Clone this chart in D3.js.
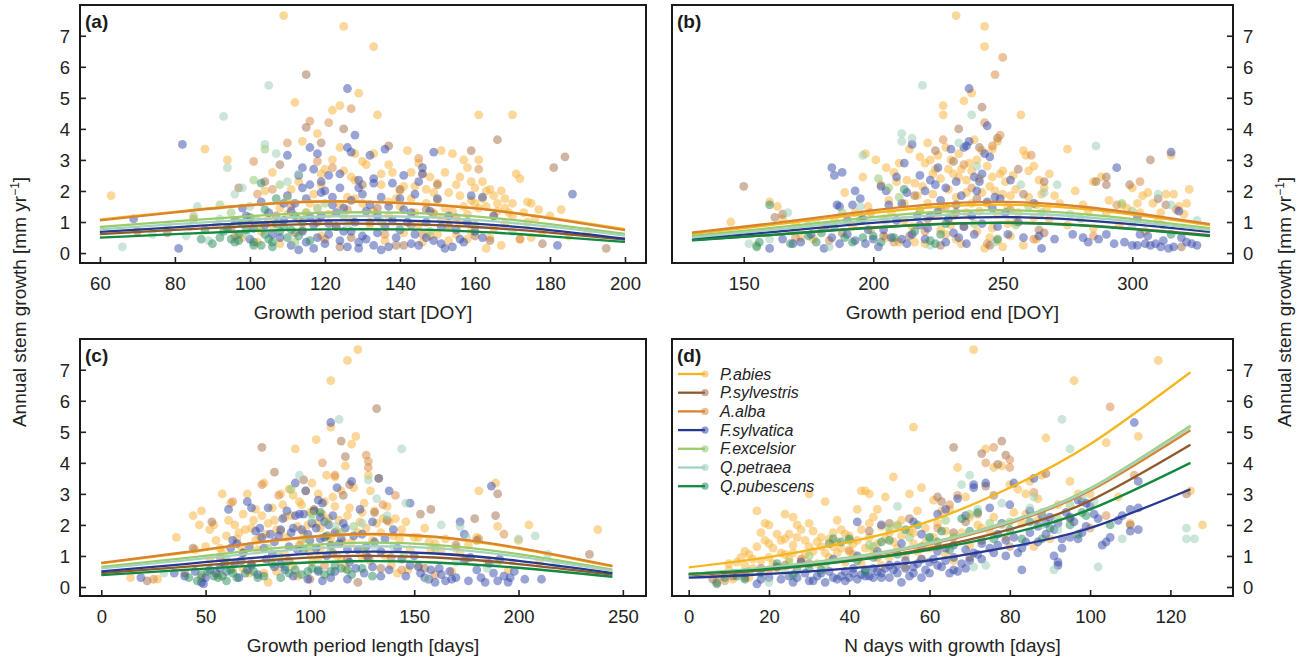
<!DOCTYPE html>
<html>
<head>
<meta charset="utf-8">
<script src="https://cdn.jsdelivr.net/npm/d3@7"></script>
<style>
  html, body { margin: 0; padding: 0; background: #fff; }
  svg { display: block; font-family: "Liberation Sans", Arial, Helvetica, sans-serif; }
</style>
</head>
<body>
<svg id="chart" width="1306" height="665"></svg>
<script>
// ---- species, colours -------------------------------------------------------
const species    = ["P.abies", "P.sylvestris", "A.alba", "F.sylvatica", "F.excelsior", "Q.petraea", "Q.pubescens"];
const lineColors = ["#f5b51c", "#8e5a2c", "#d9832f", "#27388f", "#9ccb6c", "#a3d4bb", "#12893f"];
const dotColors  = ["#f8b234", "#a06b45", "#d9863e", "#3347aa", "#8ec66a", "#98cdb1", "#27895a"];

// ---- tick labels ------------------------------------------------------------
const yTicks      = [0, 1, 2, 3, 4, 5, 6, 7];
const startTicks  = [60, 80, 100, 120, 140, 160, 180, 200];
const endTicks    = [150, 200, 250, 300];
const lengthTicks = [0, 50, 100, 150, 200, 250];
const ndaysTicks  = [0, 20, 40, 60, 80, 100, 120];

// ---- fitted curves (value per species at the listed x positions) ------------
const startCurveX = [60, 80, 100, 120, 140, 160, 180, 200];
const startCurves = [
  [1.08, 1.33, 1.56, 1.67, 1.62, 1.45, 1.14, 0.77],
  [0.61, 0.75, 0.87, 0.94, 0.93, 0.84, 0.66, 0.43],
  [1.05, 1.31, 1.54, 1.66, 1.61, 1.44, 1.12, 0.74],
  [0.68, 0.83, 0.97, 1.05, 1.05, 0.95, 0.74, 0.46],
  [0.84, 1.02, 1.19, 1.30, 1.30, 1.18, 0.93, 0.62],
  [0.76, 0.93, 1.08, 1.18, 1.18, 1.07, 0.85, 0.56],
  [0.50, 0.61, 0.71, 0.76, 0.76, 0.69, 0.54, 0.36]
];
const endCurveX = [130, 160, 190, 220, 250, 280, 310, 330];
const endCurves = [
  [0.62, 0.90, 1.20, 1.46, 1.56, 1.43, 1.13, 0.90],
  [0.42, 0.58, 0.77, 0.92, 0.98, 0.90, 0.72, 0.58],
  [0.66, 0.95, 1.27, 1.55, 1.65, 1.50, 1.18, 0.93],
  [0.46, 0.67, 0.90, 1.09, 1.16, 1.06, 0.85, 0.68],
  [0.55, 0.80, 1.07, 1.30, 1.38, 1.26, 1.00, 0.80],
  [0.50, 0.74, 0.99, 1.20, 1.28, 1.17, 0.93, 0.74],
  [0.41, 0.58, 0.76, 0.91, 0.97, 0.89, 0.70, 0.55]
];
const lengthCurveX = [0, 40, 80, 120, 160, 200, 245];
const lengthCurves = [
  [0.76, 1.10, 1.46, 1.68, 1.60, 1.24, 0.66],
  [0.45, 0.65, 0.86, 1.00, 0.95, 0.74, 0.40],
  [0.78, 1.12, 1.48, 1.70, 1.62, 1.26, 0.68],
  [0.50, 0.74, 0.98, 1.13, 1.08, 0.84, 0.45],
  [0.65, 0.93, 1.23, 1.42, 1.36, 1.06, 0.56],
  [0.60, 0.86, 1.13, 1.31, 1.25, 0.98, 0.52],
  [0.38, 0.55, 0.72, 0.83, 0.79, 0.62, 0.33]
];
const ndaysCurveX = [0, 20, 40, 60, 80, 100, 125];
const ndaysCurves = [
  [0.63, 0.96, 1.45, 2.12, 3.20, 4.60, 6.92],
  [0.38, 0.56, 0.84, 1.25, 1.86, 2.78, 4.58],
  [0.40, 0.60, 0.91, 1.37, 2.06, 3.10, 5.05],
  [0.30, 0.42, 0.60, 0.86, 1.29, 1.90, 3.15],
  [0.42, 0.63, 0.95, 1.42, 2.12, 3.18, 5.20],
  [0.41, 0.62, 0.93, 1.40, 2.10, 3.15, 5.15],
  [0.42, 0.58, 0.84, 1.20, 1.72, 2.50, 4.00]
];

// ---- observations: [x, growth, species index] -------------------------------
const tag = (s, pairs) => pairs.map(p => [p[0], p[1], p.length > 2 ? p[2] : s]);

const startPts = [].concat(
  tag(0, [[63,1.85],[88,3.35],[94,3.0],[109,7.65],[125,7.3],[133,6.65],[129,5.15],[112,4.85],[124,4.75],[122,4.6],[134,4.45],[161,4.45],[170,4.45],[114,3.6],[118,3.85],[124,3.4],[128,3.2],[130,2.95],[133,3.2],[135,2.55],[120,2.7],[119,2.2],[117,1.9],[111,2.05],[115,1.3],[126,1.8],[131,2.85],[140,1.5],[142,3.3],[145,2.9],[146,2.55],[148,2.45],[150,2.25],[151,3.3],[152,2.6],[153,1.95],[154,3.2],[155,2.2],[156,1.85],[157,3.0],[158,2.75],[159,2.3],[160,2.1],[161,3.0],[162,1.75],[163,1.5],[164,2.05],[165,1.2],[166,1.6],[167,2.0],[168,1.45],[169,1.3],[171,2.55],[172,2.4],[174,1.65],[175,1.6],[176,1.1],[178,0.7],[183,1.4],[140,2.0],[143,1.75],[147,1.6],[149,1.3],[151,1.1],[153,1.0],[155,0.6],[157,1.5],[159,1.7],[161,1.45],[163,0.15],[164,0.5],[167,0.25],[170,1.2],[172,0.45],[145,0.9],[141,0.65],[137,1.2],[136,0.4],[132,0.9],[127,1.05],[123,0.85],[121,1.25],[119,0.55],[116,1.6],[113,1.1],[108,1.45],[106,0.9],[139,1.75],[144,1.3],[150,1.7],[156,0.95],[160,0.9],[148,0.55],[158,0.45],[135,2.2],[138,2.6],[128,2.35],[125,2.65],[122,3.0],[113,2.3],[106,2.6],[104,2.0],
          [141,2.15],[143,2.6],[147,2.05],[149,1.95],[152,1.45],[154,1.35],[156,2.45],[158,1.25],[160,1.6],[162,2.3],[163,2.0],[165,1.85],[166,1.35],[168,1.75],[170,1.6],[173,1.3],[174,1.0],[177,1.4],[180,1.2],[137,1.65],[133,1.35],[130,1.6],[128,1.75],[124,1.55],[118,1.45],[110,1.25],[105,1.1],[103,0.7],[98,0.5],[102,0.35],[108,0.3],[146,0.35],[150,0.6],[153,0.4],[159,0.7],[165,0.8],[168,0.95],[175,0.5],[185,0.55],[190,0.7],[119,2.55],[127,2.45],[137,2.85],[144,2.15]]),
  tag(1, [[115,5.75,1],[121,4.2,2],[125,4.0,1],[127,4.65,2],[116,4.25,2],[115,4.05,1],[110,3.55,2],[119,3.55,1],[137,3.45,1],[166,3.65,1],[159,3.3,1],[184,3.1,1],[181,2.75,1],[161,2.7,2],[101,2.95,2],[102,1.9,2],[97,2.1,1],[108,2.85,1],[104,2.3,1],[106,2.05,2],[111,1.5,2],[118,2.95,2],[122,2.75,2],[130,2.2,1],[134,1.45,1],[140,2.05,1],[145,3.05,2],[150,2.2,1],[147,1.4,1],[155,1.15,2],[160,0.55,1],[164,0.4,1],[172,0.45,2],[178,0.3,1],[195,0.15,1],[139,0.25,1],[141,0.25,1],[124,0.2,1],[120,0.45,2],[112,0.65,1],[96,0.55,2],[78,0.65,1],[70,0.7,1],[85,1.1,2],[100,1.0,1],[126,1.4,2],[132,1.0,2],[136,0.6,2],[143,0.9,1],[149,1.25,2],[118,1.0,1],[114,0.75,2],[107,1.2,1],[127,0.5,1],[95,0.8,1],[146,0.6,2],[153,0.85,1]]),
  tag(3, [[82,3.5],[126,5.3],[128,3.8],[186,1.9],[182,0.25],[81,0.15],[69,1.1],[110,3.15],[116,3.4],[118,3.2],[126,3.4],[127,3.25],[132,3.15],[136,3.35],[149,3.25],[146,2.75],[146,2.55],[141,2.5],[133,2.4],[129,2.35],[124,2.55],[121,2.5],[116,2.2],[114,2.75],[113,2.5],[117,2.7],[119,2.3],[124,2.1],[129,2.1],[133,2.25],[138,2.25],[145,2.3],[150,1.75],[159,1.85],[162,1.8],[141,1.4],[135,1.8],[131,1.35],[128,1.0],[122,1.55],[119,1.2],[117,0.9],[114,0.7],[112,1.6],[109,1.6],[105,1.3],[104,0.9],[101,0.8],[98,1.45],[99,1.2],[118,0.5],[120,0.3],[117,0.15],[121,0.6],[124,0.4],[126,0.2],[129,0.35],[131,0.45],[133,0.25],[137,0.2],[143,0.3],[145,0.25],[147,0.5],[149,0.4],[151,0.3],[152,0.15],[154,0.2],[156,0.45],[160,0.7],[140,0.75],[138,1.05],[136,0.85],[134,0.65],[130,0.55],[127,0.7],[123,0.85],[115,0.35],[111,0.25],[108,0.5],[113,0.1],[143,1.3],[147,1.0],[151,0.85],[155,0.75],[165,1.2],[115,1.75],[119,1.95],[123,1.3],[127,1.7],[132,1.55],[114,2.1],[110,1.85],
          [120,2.0],[122,1.8],[125,1.45],[130,1.9],[134,1.2],[137,1.5],[139,0.5],[142,1.0],[144,0.6],[148,1.35],[153,1.2],[157,0.35],[158,1.0],[162,0.5],[106,0.6],[109,1.05],[111,1.35],[116,1.15],[121,0.95],[125,0.7],[129,0.15],[135,0.1],[140,1.75],[144,1.9],[103,1.65],[100,0.45],[96,1.05]]),
  tag(4, [[104,3.35],[101,2.35],[108,2.2],[97,1.0],[92,1.55],[85,1.2],[102,0.85],[110,1.75],[115,1.3],[120,1.6],[125,1.2],[135,1.0],[148,0.7],[112,0.35],[102,1.05],[95,1.3]]),
  tag(5, [[66,0.2],[105,5.4],[93,4.4],[94,2.75],[96,1.9],[98,2.1],[104,3.5],[107,3.2],[110,2.3],[113,2.55],[100,1.5],[86,1.5],[92,1.1],[83,0.55],[89,0.4],[118,1.45],[126,0.9],[140,0.8],[160,0.9],[170,0.7],[99,0.6],[91,0.9],[84,0.85],[78,0.9],[74,0.6]]),
  tag(6, [[87,0.45],[92,0.5],[95,0.45],[96,0.35],[97,0.6],[99,0.75],[101,0.35],[101,0.25],[103,2.25],[104,0.6],[105,0.45],[106,0.2],[106,0.35],[107,1.75],[107,0.95],[108,0.7],[110,0.5],[111,0.75],[112,1.2],[113,0.55],[114,1.0],[116,0.4],[97,0.4],[93,0.7],[100,1.15],[104,1.4],[94,0.8],[88,0.75],[90,0.3],[98,0.95],[103,0.25],[109,0.85]])
);

const endPts = [].concat(
  tag(0, [[145,1.0],[160,1.65],[163,1.5],[165,1.1],[172,0.5],[177,0.45],[189,1.95],[196,2.45],[197,3.2],[201,3.0],[203,2.2],[206,1.7],[208,2.6],[209,2.3],[212,1.6],[214,3.35],[216,2.25],[218,3.1],[220,2.9],[221,3.55],[222,3.0],[223,2.55],[224,2.7],[225,3.15],[226,2.4],[227,4.75],[227,4.45],[228,3.4],[229,2.05],[230,3.0],[231,2.55],[232,7.65],[232,1.8],[233,3.2],[234,2.7],[235,4.9],[236,2.35],[237,2.9],[238,5.15],[239,3.65],[240,3.0],[241,2.4],[242,3.3],[243,7.3],[243,6.65],[244,2.8],[245,2.15],[246,3.35],[247,2.0],[248,3.6],[249,2.55],[250,1.9],[251,2.3],[253,1.85],[255,2.05],[257,4.45],[258,3.3],[259,3.15],[260,2.65],[262,2.8],[263,1.55],[265,1.9],[266,2.1],[268,2.55],[270,1.85],[275,3.35],[281,1.55],[285,2.3],[288,2.45],[291,1.7],[296,1.55],[300,2.1],[302,1.6],[304,1.85],[306,1.95],[308,1.6],[311,1.3],[313,1.9],[315,3.15],[318,1.5],[320,1.25],[322,2.05],[225,1.2],[230,0.9],[236,1.3],[240,0.7],[245,0.5],[248,0.4],[250,0.2],[253,0.55],[258,0.25],[263,0.45],[215,0.85],[212,1.05],[205,0.5],[199,0.75],[220,0.3],[228,0.6],[234,0.3],[243,0.15],[185,1.1],[192,0.85],[268,1.1],[275,0.9],[285,0.8],[295,0.9],[305,0.7],[210,0.35],[218,1.35],[238,1.6],[255,1.0],
          [205,2.75],[207,1.3],[210,2.9],[213,2.35],[217,1.85],[219,2.15],[221,1.6],[223,1.9],[226,1.45],[229,2.7],[231,1.2],[233,2.45],[236,1.95],[238,2.65],[241,1.35],[242,1.95],[244,1.6],[246,2.45],[248,1.25],[250,2.65],[252,1.5],[254,2.5],[256,1.3],[260,1.8],[262,1.15],[264,2.35],[267,1.45],[272,1.6],[278,2.0],[283,1.35],[290,1.3],[298,1.45],[303,1.3],[310,1.05],[316,1.9],[321,1.6],[232,0.45],[226,0.75],[216,0.35],[204,1.1],[198,1.5],[193,1.3],[180,0.8],[170,0.95],[246,0.8],[252,0.95]]),
  tag(1, [[150,2.15,1],[250,6.3,2],[247,5.75,2],[242,4.7,1],[243,4.2,2],[233,4.0,1],[248,3.7,1],[249,3.8,2],[241,3.4,1],[227,3.65,2],[224,3.3,1],[231,2.95,1],[235,2.85,2],[246,3.45,2],[256,2.7,1],[261,3.15,2],[266,2.3,1],[286,2.3,1],[290,2.45,1],[290,2.2,1],[294,1.55,2],[299,2.2,1],[303,2.3,2],[307,3.0,1],[310,1.75,1],[313,1.55,1],[317,1.4,2],[319,0.2,1],[162,1.15,1],[165,1.25,1],[170,0.5,2],[183,0.4,2],[204,0.55,1],[208,0.35,2],[214,0.55,1],[220,0.7,2],[226,0.25,1],[244,0.3,2],[245,0.25,1],[262,0.45,2],[264,0.75,1],[266,0.65,1],[285,0.55,2],[221,1.1,1],[228,1.5,2],[232,1.3,1],[238,2.1,2],[240,1.75,1],[253,1.4,2],[258,1.9,1],[235,0.85,2],[216,1.85,1],[199,1.3,2],[188,0.65,1]]),
  tag(3, [[237,5.3],[184,2.75],[185,2.5],[188,2.6],[215,3.5],[212,2.9],[244,4.1],[294,2.75],[315,3.25],[193,2.0],[195,1.75],[192,1.55],[186,1.55],[203,2.15],[205,2.0],[206,1.55],[209,2.45],[211,1.6],[213,1.95],[218,2.5],[220,2.0],[222,2.35],[224,2.2],[225,2.75],[228,2.1],[230,3.35],[232,2.3],[234,1.85],[235,3.4],[236,3.45],[237,3.6],[239,2.45],[241,2.3],[242,2.55],[243,3.2],[245,3.1],[247,1.8],[249,1.75],[253,2.35],[262,1.6],[184,0.5],[187,0.3],[190,0.6],[193,0.4],[181,0.15],[165,0.45],[169,0.3],[160,0.15],[200,0.45],[202,0.2],[207,0.5],[211,0.45],[215,0.6],[218,0.9],[220,0.45],[222,1.2],[225,1.35],[229,1.1],[231,0.65],[233,0.5],[236,0.3],[239,0.6],[242,0.95],[246,1.45],[251,1.3],[256,1.0],[264,0.55],[265,0.15],[281,0.5],[283,0.35],[290,0.6],[297,0.35],[300,0.25],[302,0.25],[303,0.6],[305,0.3],[307,0.25],[309,0.3],[311,0.2],[312,0.4],[314,0.15],[316,0.2],[318,1.35],[319,0.5],[323,0.3],[302,1.15],[196,1.1],[198,0.75],
          [197,0.3],[204,0.75],[209,1.05],[213,0.3],[217,1.2],[221,0.8],[226,1.7],[228,0.35],[232,1.55],[235,0.85],[238,1.2],[240,2.0],[244,1.65],[248,0.85],[252,0.6],[258,0.5],[270,0.45],[277,0.6],[287,0.45],[293,0.3],[306,0.55],[321,0.35],[325,0.25],[190,1.05],[187,1.5],[182,0.9],[176,0.6],[172,0.35]]),
  tag(4, [[202,2.4],[206,2.1],[210,1.8],[218,1.4],[230,1.25],[260,1.5],[188,1.3],[175,0.9],[155,0.25],[255,0.9],[280,1.1],[300,1.35],[312,0.9],[239,0.95],[265,1.3],[296,1.6],[170,0.75]]),
  tag(5, [[219,5.4],[238,4.45],[211,3.85],[215,3.7],[286,3.45],[196,3.15],[211,3.6],[233,3.55],[240,2.8],[257,2.2],[266,1.95],[271,2.2],[310,1.9],[315,1.55],[167,1.3],[178,1.0],[195,1.5],[205,1.05],[222,0.25],[247,0.35],[160,0.45],[152,0.3],[325,1.05],[183,0.2],[276,1.25],[300,0.9]]),
  tag(6, [[155,0.2],[160,1.55],[196,0.5],[222,0.4],[156,0.35],[168,0.3],[185,0.85],[192,0.35],[200,0.55],[208,0.5],[212,2.05],[216,0.7],[224,0.3],[228,0.95],[248,0.45],[315,0.6],[180,0.65],[195,1.05],[175,0.55],[178,0.35],[189,0.5],[203,0.35],[226,0.6]])
);

const lengthPts = [].concat(
  tag(0, [[123,7.65],[118,7.3],[110,6.65],[110,5.15],[122,4.85],[103,4.75],[120,4.6],[93,4.45],[181,3.1],[189,3.35],[238,1.85],[205,2.0],[36,1.6],[14,0.3],[27,0.25],[44,2.3],[48,2.45],[47,2.0],[52,1.85],[55,1.5],[58,3.0],[60,1.65],[62,2.7],[64,2.0],[66,1.75],[68,2.35],[70,3.0],[72,1.9],[74,2.5],[76,1.6],[78,3.35],[80,2.05],[82,2.55],[84,1.85],[86,3.0],[88,2.25],[90,3.15],[92,2.95],[94,1.95],[96,2.65],[98,3.1],[99,2.0],[101,3.35],[102,2.45],[104,3.0],[105,1.9],[107,2.75],[108,3.6],[109,2.2],[111,2.9],[112,3.55],[113,1.8],[115,3.1],[117,3.9],[119,2.55],[121,3.2],[124,2.1],[126,2.7],[128,3.6],[129,3.1],[131,2.45],[133,3.5],[135,2.2],[138,2.1],[140,1.65],[143,1.55],[146,2.1],[150,1.6],[155,1.9],[160,1.4],[165,1.55],[170,1.25],[176,1.35],[190,1.95],[200,1.5],[45,1.2],[52,0.9],[58,1.1],[63,0.6],[67,1.3],[71,0.45],[75,1.2],[80,0.15],[84,0.5],[88,1.05],[92,0.7],[96,1.5],[101,0.8],[105,1.25],[110,1.55],[115,0.85],[120,1.45],[125,0.95],[130,1.5],[136,1.0],[142,0.45],[148,1.2],[152,0.7],[158,1.2],[168,0.5],[175,0.9],[185,0.8],[195,0.55],[210,0.8],[74,1.5],[86,1.8],[100,1.1],[113,1.0],
          [50,1.3],[54,2.0],[57,1.25],[61,2.15],[65,1.55],[69,1.85],[73,2.15],[77,2.3],[79,1.7],[83,2.15],[87,2.65],[89,1.6],[91,2.3],[95,2.75],[97,1.75],[100,2.4],[103,2.05],[106,2.35],[109,1.65],[112,2.6],[114,2.15],[116,1.45],[118,2.3],[123,1.75],[125,2.4],[127,1.9],[132,2.05],[134,1.75],[137,2.6],[141,2.2],[144,1.85],[152,1.6],[157,1.45],[163,1.2],[172,1.1],[180,1.6],[60,0.8],[68,0.6],[78,0.45],[94,0.35],[104,0.95],[117,0.6],[129,0.85],[139,0.7],[147,0.55],[56,0.4]]),
  tag(1, [[132,5.75,1],[115,4.7,1],[117,4.2,1],[127,4.25,2],[128,4.05,2],[77,4.5,1],[83,3.7,1],[106,4.0,2],[190,3.0,1],[189,2.3,1],[234,1.05,1],[22,0.2,1],[25,0.25,2],[53,2.1,1],[63,2.75,2],[77,3.3,2],[85,2.95,2],[97,3.45,1],[102,2.5,1],[112,3.6,2],[116,2.95,1],[119,3.3,1],[128,3.85,2],[131,2.4,1],[135,2.65,2],[137,2.15,1],[141,2.95,2],[153,2.35,1],[158,2.5,1],[179,2.2,1],[181,1.55,2],[193,1.7,2],[180,1.5,1],[44,1.25,1],[57,0.95,1],[68,1.1,2],[72,0.75,1],[90,0.85,1],[95,1.35,2],[100,0.25,1],[107,0.7,2],[111,1.1,1],[118,0.9,1],[123,0.15,1],[127,1.0,2],[134,0.6,1],[139,0.95,1],[144,0.55,2],[155,0.6,1],[160,0.4,2],[170,1.35,1],[40,0.45,1],[48,0.3,2]]),
  tag(3, [[110,5.3],[120,3.4],[93,3.35],[133,3.5],[138,3.1],[148,2.7],[187,3.25],[19,0.3],[35,0.45],[40,0.35],[48,0.15],[49,0.1],[50,0.3],[55,0.45],[57,0.6],[59,0.75],[60,0.5],[61,2.5],[63,1.5],[65,1.4],[67,0.85],[70,2.75],[72,2.55],[74,1.8],[76,1.9],[78,1.25],[80,2.55],[81,1.7],[83,1.45],[85,1.65],[87,2.2],[89,2.45],[91,1.75],[93,2.3],[94,1.2],[95,2.35],[96,1.85],[97,2.35],[98,3.1],[100,1.5],[101,2.05],[102,2.45],[103,1.9],[104,2.8],[105,2.25],[106,2.7],[107,1.6],[108,1.0],[109,2.0],[111,2.3],[112,1.75],[113,3.2],[114,1.4],[116,2.05],[118,1.2],[121,1.65],[124,2.5],[127,1.3],[130,2.1],[136,1.55],[140,1.85],[142,1.25],[144,0.9],[146,0.35],[150,1.0],[152,0.65],[155,0.3],[158,0.55],[160,0.15],[163,0.4],[165,0.2],[168,0.25],[170,0.3],[172,2.1],[174,0.85],[177,0.95],[180,0.55],[182,0.3],[184,0.15],[186,0.75],[190,0.2],[191,0.9],[193,0.35],[195,0.15],[196,0.3],[211,0.25],[174,1.7],[88,0.55],[92,0.35],[99,0.25],[104,0.5],[106,0.2],[110,0.3],[112,0.5],[118,0.25],[122,0.6],[126,0.45],[130,0.65],[134,0.35],[83,0.65],[79,0.9],[70,0.55],[66,0.3],[75,0.4],
          [62,1.25],[68,1.1],[71,1.3],[77,1.6],[82,1.05],[86,1.85],[90,1.3],[92,1.9],[99,1.7],[103,1.25],[105,1.55],[107,2.1],[110,1.35],[115,1.55],[117,1.9],[119,0.8],[123,1.2],[125,1.7],[128,0.95],[131,1.45],[134,1.15],[138,0.55],[148,0.7],[153,0.45],[157,0.25],[162,0.6],[167,0.5],[176,0.2],[188,0.45],[198,0.5],[203,0.25],[86,0.75],[72,0.7],[64,0.75],[52,0.55],[45,0.5]]),
  tag(4, [[91,3.15],[101,2.35],[108,2.1],[115,1.75],[121,1.95],[126,1.2],[98,1.55],[80,1.25],[145,1.0],[160,1.25],[190,0.8],[60,0.9],[85,1.0],[110,1.2],[100,1.3]]),
  tag(5, [[114,5.4],[144,4.45],[95,3.6],[146,2.7],[208,1.65],[128,3.45],[132,2.85],[137,2.3],[163,2.0],[172,1.95],[175,1.6],[200,1.55],[214,1.05],[218,0.75],[156,0.25],[131,1.3],[60,0.55],[30,0.45],[101,2.15],[112,1.95],[140,1.3],[170,0.8],[185,0.6],[125,2.05]]),
  tag(6, [[42,0.3],[46,0.2],[48,0.4],[51,0.5],[54,0.35],[56,0.3],[62,0.55],[65,0.3],[69,0.45],[73,0.5],[78,0.35],[86,0.3],[90,0.45],[96,0.4],[99,0.5],[101,0.6],[104,0.55],[107,0.4],[108,1.65],[112,0.7],[115,0.6],[120,0.4],[130,0.35],[105,2.4],[97,1.2],[82,0.75],[58,0.35],[60,0.2],[63,0.45],[75,0.3],[88,0.65],[93,0.55],[110,0.5],[118,0.55],[125,0.6]])
);

const ndaysPts = [].concat(
  tag(0, [[71,7.65],[117,7.3],[96,6.65],[56,5.15],[89,4.8],[112,4.85],[104,4.65],[30,3.0],[43,3.1],[44,3.1],[45,3.0],[51,3.55],[55,3.0],[58,3.2],[61,2.8],[49,2.9],[47,2.5],[42,2.5],[37,2.15],[34,2.75],[26,2.25],[24,2.35],[17,2.45],[19,2.05],[20,2.0],[22,1.7],[23,1.5],[25,1.7],[27,2.0],[28,1.85],[30,2.05],[31,1.8],[33,1.6],[35,1.55],[36,1.3],[38,1.85],[40,1.65],[41,1.4],[43,1.85],[45,1.6],[46,2.25],[48,1.95],[50,1.75],[52,1.95],[53,2.15],[55,1.8],[57,2.45],[59,1.9],[62,2.05],[63,2.45],[65,2.5],[67,3.85],[69,2.9],[72,2.0],[74,4.45],[76,3.85],[78,3.9],[80,3.3],[82,3.15],[84,3.0],[85,3.4],[87,2.85],[88,3.6],[95,3.4],[97,3.0],[100,3.0],[107,2.9],[110,2.05],[125,3.1],[128,2.0],[8,0.35],[10,0.55],[12,0.8],[13,0.95],[14,0.7],[15,1.05],[16,0.9],[17,1.3],[18,1.75],[19,1.5],[20,0.95],[21,1.25],[22,0.6],[24,1.05],[26,1.35],[28,0.85],[29,1.5],[31,1.15],[32,0.75],[33,1.3],[35,0.95],[37,1.1],[39,0.8],[41,1.05],[43,0.75],[46,1.15],[48,0.7],[50,0.95],[52,1.25],[54,0.65],[56,1.4],[58,0.9],[60,1.25],[64,1.05],[66,0.85],[70,1.35],[75,1.8],[79,1.6],[83,2.05],[86,1.3],[90,1.55],
          [10,0.75],[11,0.4],[14,1.15],[16,0.6],[18,0.85],[20,1.4],[21,0.75],[23,1.1],[24,1.55],[25,0.9],[26,1.1],[27,1.6],[29,1.05],[30,1.3],[32,1.45],[34,1.1],[36,1.75],[37,1.45],[38,1.25],[39,1.7],[40,1.2],[42,1.5],[44,1.25],[45,2.05],[47,1.4],[49,1.55],[51,1.45],[53,1.65],[54,1.0],[56,1.75],[57,1.15],[59,1.45],[61,1.6],[62,1.3],[64,1.8],[66,1.6],[68,1.75],[70,2.25],[73,1.9],[76,2.25],[81,2.4],[84,2.35],[87,2.15],[92,2.65],[11,0.25],[15,0.3]]),
  tag(1, [[105,5.8,2],[66,4.5,1],[78,4.7,1],[76,4.5,2],[73,4.3,1],[79,4.25,1],[80,4.1,2],[74,4.0,2],[80,3.85,2],[77,3.95,1],[74,3.25,1],[76,2.95,1],[67,2.95,2],[62,2.9,1],[63,2.75,1],[69,2.1,1],[72,2.35,2],[65,2.65,2],[89,3.65,1],[86,3.05,2],[98,2.75,1],[104,2.3,2],[110,2.0,1],[111,3.6,2],[124,3.0,1],[80,1.3,2],[73,1.5,1],[70,0.95,1],[62,1.9,2],[55,2.2,1],[50,2.05,1],[45,1.8,1],[40,1.15,2],[35,1.4,1],[28,0.9,2],[24,0.7,1],[18,0.6,1],[12,0.45,2],[6,0.25,1],[7,0.15,1],[9,0.2,2],[11,0.35,1],[14,0.3,1],[20,0.55,2],[30,0.75,1],[47,0.95,2],[58,1.3,1],[66,1.75,1],[95,2.2,1],[100,1.9,2]]),
  tag(3, [[111,5.3],[17,0.1],[18,0.25],[26,0.15],[30,0.2],[31,0.2],[34,0.15],[36,0.3],[37,0.25],[38,0.35],[39,0.2],[40,0.3],[41,0.45],[42,0.25],[43,0.4],[44,0.55],[45,0.35],[46,0.3],[47,0.5],[48,0.45],[49,0.6],[50,0.3],[51,0.55],[52,0.7],[53,0.15],[54,0.6],[55,0.35],[56,0.45],[57,0.75],[58,0.3],[59,0.55],[60,0.8],[61,0.9],[62,1.15],[63,0.65],[64,1.25],[65,0.45],[66,0.55],[68,0.75],[69,1.2],[70,0.85],[71,3.3],[71,3.2],[72,1.05],[73,1.4],[74,3.35],[75,2.55],[77,1.7],[78,2.05],[79,1.5],[80,2.65],[81,3.35],[82,1.1],[83,0.55],[84,1.45],[85,2.45],[86,3.5],[87,1.95],[88,2.3],[89,1.7],[90,2.25],[91,1.0],[92,2.05],[93,1.55],[94,2.4],[95,1.6],[96,2.1],[97,2.8],[98,1.75],[99,2.7],[100,2.6],[101,2.35],[103,1.35],[104,1.45],[107,2.15],[110,1.8],[112,2.55],[112,3.4],[92,0.7],[92,0.8],[48,2.0],[42,2.1],[56,2.1],[62,2.35],[64,2.5],[67,2.85],[69,2.3],[76,1.1],[66,1.35],[58,1.7],[53,1.4],[47,1.15],[42,1.0],[36,0.9],[28,0.8],[22,0.65],[14,0.45],
          [20,0.3],[23,0.25],[25,0.35],[27,0.3],[29,0.45],[32,0.35],[33,0.45],[35,0.5],[39,0.5],[41,0.6],[44,0.35],[46,0.6],[48,0.3],[50,0.7],[52,0.45],[54,0.85],[56,0.65],[58,0.9],[60,0.45],[62,0.7],[64,0.85],[66,0.95],[67,0.5],[69,0.6],[71,1.1],[73,0.9],[75,1.25],[77,1.35],[79,1.0],[81,1.6],[83,1.25],[85,1.75],[87,1.45],[89,2.05],[91,1.85],[93,1.25],[95,2.25],[97,1.55],[99,1.95],[102,2.2],[105,1.6],[108,2.3],[110,2.5],[112,1.85]]),
  tag(4, [[50,1.9],[52,2.0],[35,1.4],[40,1.5],[45,1.35],[55,1.6],[60,1.6],[64,2.15],[70,2.35],[80,2.1],[88,2.4],[95,2.65],[30,1.0],[25,0.8],[15,0.5],[34,0.7],[46,1.3],[58,1.25],[66,1.6],[75,2.05],[92,2.2]]),
  tag(5, [[93,5.4],[95,4.45],[124,1.9],[126,1.55],[124,1.55],[102,0.65],[91,0.55],[20,0.15],[70,3.6],[68,3.3],[72,2.5],[78,2.0],[85,2.55],[88,2.0],[92,1.85],[98,2.9],[101,2.75],[108,1.55],[71,0.65],[74,0.7],[52,2.6],[60,1.5],[24,0.5],[78,2.7],[86,2.9]]),
  tag(6, [[7,0.1],[12,0.35],[22,0.75],[26,0.4],[27,0.55],[33,0.55],[36,1.55],[38,1.45],[40,1.55],[44,0.5],[46,0.95],[48,1.45],[50,1.5],[54,1.85],[57,2.0],[60,1.6],[63,1.8],[65,1.2],[68,2.2],[72,2.4],[76,1.55],[83,1.55],[88,1.55],[90,1.9],[95,2.0],[97,1.7],[99,2.3],[105,2.0],[9,0.3],[14,0.25],[18,0.45],[30,0.6],[42,0.85],[52,1.05],[62,1.45],[70,1.8],[80,1.85],[85,2.1],[98,2.4]])
);

// ---- panel layout -----------------------------------------------------------
const panels = [
  { label: "(a)", pts: startPts,  cx: startCurveX,  cy: startCurves,  ticks: startTicks,  title: "Growth period start [DOY]",
    box: { l: 80,  r: 646,  t: 5,   b: 263 }, xd: [54.7, 205.6], yd: [-0.32, 7.99], side: "left"  },
  { label: "(b)", pts: endPts,    cx: endCurveX,    cy: endCurves,    ticks: endTicks,    title: "Growth period end [DOY]",
    box: { l: 672, r: 1233, t: 5,   b: 263 }, xd: [122.3, 338.9], yd: [-0.32, 7.99], side: "right" },
  { label: "(c)", pts: lengthPts, cx: lengthCurveX, cy: lengthCurves, ticks: lengthTicks, title: "Growth period length [days]",
    box: { l: 80,  r: 646,  t: 339, b: 596 }, xd: [-10.2, 261.1], yd: [-0.29, 7.99], side: "left"  },
  { label: "(d)", pts: ndaysPts,  cx: ndaysCurveX,  cy: ndaysCurves,  ticks: ndaysTicks,  title: "N days with growth [days]",
    box: { l: 672, r: 1233, t: 339, b: 596 }, xd: [-4.16, 135.6], yd: [-0.29, 7.99], side: "right" }
];

const svg = d3.select("#chart");
const TICK_FONT = 18.5, TITLE_FONT = 19;

panels.forEach((p, i) => {
  const B = p.box;
  const x = d3.scaleLinear().domain(p.xd).range([B.l, B.r]);
  const y = d3.scaleLinear().domain(p.yd).range([B.b, B.t]);
  const g = svg.append("g");

  const clipId = "clip" + i;
  svg.append("clipPath").attr("id", clipId)
    .append("rect").attr("x", B.l).attr("y", B.t).attr("width", B.r - B.l).attr("height", B.b - B.t);

  const plot = g.append("g").attr("clip-path", `url(#${clipId})`);

  // observations
  plot.append("g").selectAll("circle")
    .data(p.pts)
    .join("circle")
    .attr("cx", d => x(d[0]))
    .attr("cy", d => y(d[1]))
    .attr("r", 4.4)
    .attr("fill", d => dotColors[d[2]])
    .attr("fill-opacity", 0.5);

  // fitted curves
  const line = d3.line().x(d => x(d[0])).y(d => y(d[1])).curve(d3.curveNatural);
  p.cy.forEach((vals, s) => {
    plot.append("path")
      .datum(vals.map((v, k) => [p.cx[k], v]))
      .attr("d", line)
      .attr("fill", "none")
      .attr("stroke", lineColors[s])
      .attr("stroke-width", 2.3);
  });

  // x axis, ticks pointing inward
  const xa = g.append("g").attr("transform", `translate(0,${B.b})`)
    .call(d3.axisBottom(x).tickValues(p.ticks).tickSizeInner(-6).tickSizeOuter(0));
  xa.select(".domain").remove();
  xa.selectAll(".tick line").attr("stroke", "#222").attr("stroke-width", 1.6);
  xa.selectAll(".tick text").attr("y", 27).attr("dy", null)
    .attr("font-size", TICK_FONT).attr("fill", "#222").attr("font-family", null);

  // y axis on the outer side of each column
  const yAxisGen = p.side === "left" ? d3.axisLeft(y) : d3.axisRight(y);
  const ya = g.append("g").attr("transform", `translate(${p.side === "left" ? B.l : B.r},0)`)
    .call(yAxisGen.tickValues(yTicks).tickSizeInner(-6).tickSizeOuter(0));
  ya.select(".domain").remove();
  ya.selectAll(".tick line").attr("stroke", "#222").attr("stroke-width", 1.6);
  ya.selectAll(".tick text")
    .attr("x", p.side === "left" ? -10 : 10)
    .attr("dy", "0.36em")
    .attr("font-size", TICK_FONT).attr("fill", "#222").attr("font-family", null);

  // frame
  g.append("rect")
    .attr("x", B.l).attr("y", B.t).attr("width", B.r - B.l).attr("height", B.b - B.t)
    .attr("fill", "none").attr("stroke", "#1b1b1b").attr("stroke-width", 2);

  // panel letter
  g.append("text").attr("x", B.l + 5).attr("y", B.t + 23)
    .attr("font-size", 19).attr("font-weight", "bold").attr("fill", "#1b1b1b")
    .text(p.label);

  // x title
  g.append("text").attr("x", (B.l + B.r) / 2).attr("y", B.b + 56)
    .attr("text-anchor", "middle").attr("font-size", TITLE_FONT).attr("fill", "#222")
    .text(p.title);

  // legend inside panel (d)
  if (i === 3) {
    const lg = g.append("g");
    species.forEach((name, s) => {
      const yy = 374 + s * 18.7;
      lg.append("line").attr("x1", 678).attr("x2", 705).attr("y1", yy).attr("y2", yy)
        .attr("stroke", lineColors[s]).attr("stroke-width", 2.3);
      lg.append("circle").attr("cx", 705).attr("cy", yy).attr("r", 3.6)
        .attr("fill", dotColors[s]).attr("fill-opacity", 0.55);
      lg.append("text").attr("x", 720).attr("y", yy).attr("dy", "0.35em")
        .attr("font-size", 16).attr("font-style", "italic").attr("fill", "#222")
        .text(name);
    });
  }
});

// shared y titles on both sides
function yTitle(xPos) {
  const t = svg.append("text")
    .attr("transform", `translate(${xPos},302) rotate(-90)`)
    .attr("text-anchor", "middle")
    .attr("font-size", TITLE_FONT).attr("fill", "#222");
  t.append("tspan").text("Annual stem growth [mm yr");
  t.append("tspan").attr("dy", -7).attr("font-size", 12).text("\u22121");
  t.append("tspan").attr("dy", 7).text("]");
}
yTitle(26);
yTitle(1291);
</script>
</body>
</html>
